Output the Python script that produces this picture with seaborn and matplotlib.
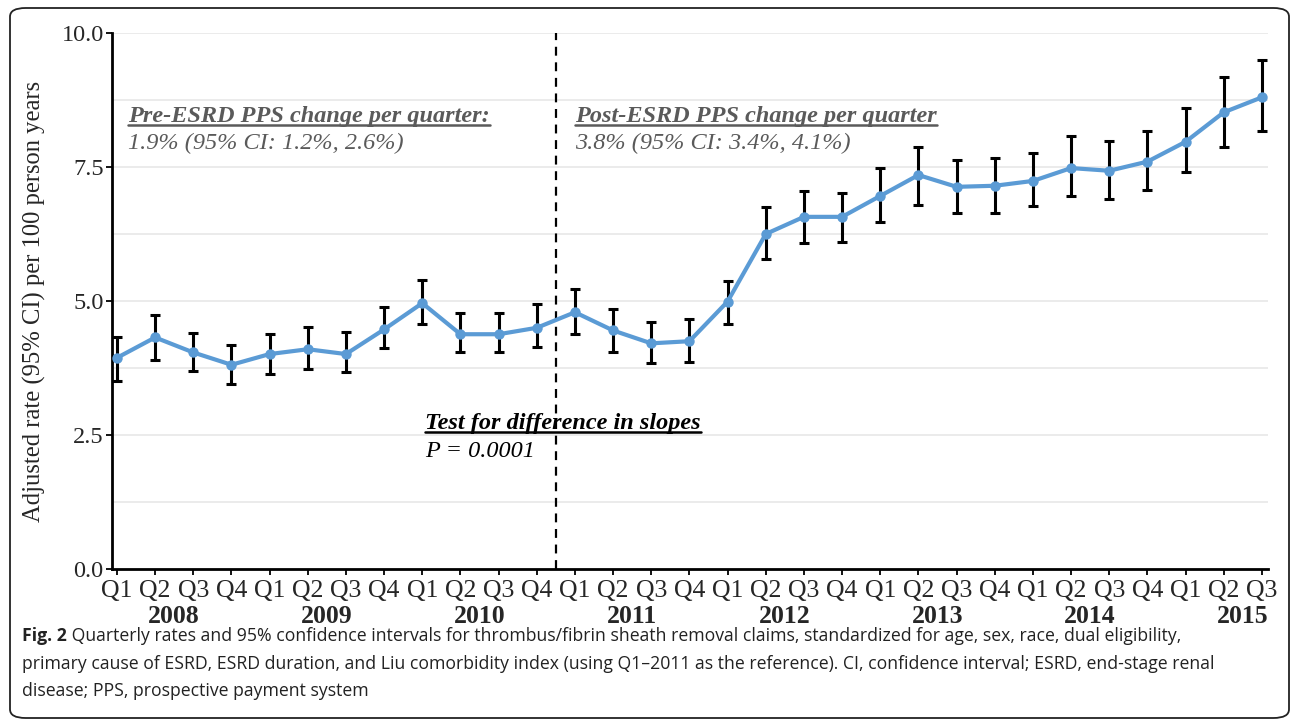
import numpy as np
import pandas as pd
import matplotlib
matplotlib.use("Agg")
import matplotlib.pyplot as plt
import seaborn as sns
from matplotlib.patches import FancyBboxPatch
from matplotlib.lines import Line2D

# quarterly adjusted rates (per 100 person years) with 95% CI, Q1 2008 - Q3 2015
quarters = ["Q1", "Q2", "Q3", "Q4"] * 7 + ["Q1", "Q2", "Q3"]
years = ["2008", "2009", "2010", "2011", "2012", "2013", "2014", "2015"]
rate = [3.94, 4.32, 4.04, 3.81, 4.01, 4.10, 4.01, 4.47, 4.96, 4.38, 4.38, 4.50,
        4.79, 4.45, 4.21, 4.25, 4.99, 6.25, 6.57, 6.57, 6.96, 7.35, 7.13, 7.15,
        7.24, 7.48, 7.43, 7.60, 7.97, 8.52, 8.80]
ci_low = [3.51, 3.89, 3.69, 3.45, 3.63, 3.74, 3.67, 4.12, 4.57, 4.04, 4.04, 4.14,
          4.38, 4.04, 3.85, 3.87, 4.57, 5.78, 6.08, 6.11, 6.47, 6.79, 6.64, 6.65,
          6.78, 6.95, 6.90, 7.07, 7.40, 7.87, 8.18]
ci_high = [4.33, 4.74, 4.41, 4.18, 4.38, 4.52, 4.43, 4.88, 5.39, 4.77, 4.77, 4.94,
           5.22, 4.85, 4.61, 4.66, 5.38, 6.75, 7.05, 7.02, 7.48, 7.88, 7.63, 7.67,
           7.77, 8.08, 7.99, 8.18, 8.61, 9.17, 9.50]

df = pd.DataFrame({"idx": np.arange(len(rate)), "rate": rate,
                   "lo": ci_low, "hi": ci_high})

sns.set_theme(style="white")
plt.rcParams["font.family"] = ["Liberation Serif", "DejaVu Serif"]

W, H = 1295, 724
fig = plt.figure(figsize=(W / 100, H / 100), dpi=100)
ax = fig.add_axes([112 / W, 1 - 569 / H, (1268 - 112) / W, (569 - 33) / H])

# outer rounded frame
frame = FancyBboxPatch((10 / W, 6 / H), (1289 - 10) / W, (716 - 6) / H,
                       boxstyle="round,pad=0,rounding_size=0.012",
                       transform=fig.transFigure, fill=False,
                       edgecolor="#222222", linewidth=1.3)
fig.patches.append(frame)

# gridlines
for g in np.arange(1.25, 10.01, 1.25):
    ax.axhline(g, color="#e9e9e9", lw=1.3, zorder=0)

ax.errorbar(df["idx"], df["rate"],
            yerr=[df["rate"] - df["lo"], df["hi"] - df["rate"]],
            fmt="none", ecolor="black", elinewidth=2.2, capsize=3.8,
            capthick=2.2, zorder=2)
sns.lineplot(data=df, x="idx", y="rate", ax=ax, color="#5b9bd5", lw=3.0,
             marker="o", markersize=7.5, markeredgewidth=0, zorder=3)

ax.axvline(11.5, color="black", lw=1.6, ls=(0, (4, 3)), zorder=1)

ax.set_xlim(-0.13, 30.16)
ax.set_ylim(0, 10)
ax.set_yticks([0, 2.5, 5, 7.5, 10])
ax.set_yticklabels(["0.0", "2.5", "5.0", "7.5", "10.0"])
ax.set_xticks(df["idx"])
ax.set_xticklabels(quarters)
ax.tick_params(axis="both", color="black", length=4, width=1.3,
               direction="out", left=True, bottom=True)
ax.tick_params(axis="x", labelsize=18.5, pad=4)
ax.tick_params(axis="y", labelsize=17.5, pad=2)
for s in ["top", "right"]:
    ax.spines[s].set_visible(False)
for s in ["left", "bottom"]:
    ax.spines[s].set_color("black")
    ax.spines[s].set_linewidth(2.0)
ax.set_xlabel("")
ax.set_ylabel("Adjusted rate (95% CI) per 100 person years", fontsize=17.7,
              labelpad=11)

for k, yr in enumerate(years):
    ax.text(4 * k + 1.5, -0.088, yr, transform=ax.get_xaxis_transform(),
            ha="center", va="center", fontsize=18.5, fontweight="bold")

# annotations
gray = "#5a5a5a"
fs = 17.5
t1 = ax.text(0.29, 8.34, "Pre-ESRD PPS change per quarter:", fontsize=fs,
             fontweight="bold", fontstyle="italic", color=gray, va="baseline")
ax.text(0.29, 7.84, "1.9% (95% CI: 1.2%, 2.6%)", fontsize=fs,
        fontstyle="italic", color=gray, va="baseline")
t2 = ax.text(12.0, 8.34, "Post-ESRD PPS change per quarter", fontsize=fs,
             fontweight="bold", fontstyle="italic", color=gray, va="baseline")
ax.text(12.0, 7.84, "3.8% (95% CI: 3.4%, 4.1%)", fontsize=fs,
        fontstyle="italic", color=gray, va="baseline")
t3 = ax.text(8.07, 2.61, "Test for difference in slopes", fontsize=fs,
             fontweight="bold", fontstyle="italic", color="black", va="baseline")
ax.text(8.07, 2.09, "P = 0.0001", fontsize=fs, fontstyle="italic",
        color="black", va="baseline")

# caption
cap_font = ["Open Sans", "DejaVu Sans"]
cap_fs = 12.7
cap_lines = [
    " Quarterly rates and 95% confidence intervals for thrombus/fibrin sheath "
    "removal claims, standardized for age, sex, race, dual eligibility,",
    "primary cause of ESRD, ESRD duration, and Liu comorbidity index (using "
    "Q1\u20132011 as the reference). CI, confidence interval; ESRD, end-stage renal",
    "disease; PPS, prospective payment system",
]
cap_y = [1 - 641 / H, 1 - 669 / H, 1 - 696 / H]
fig_lab = fig.text(22 / W, cap_y[0], "Fig. 2", fontsize=cap_fs, fontweight="bold",
                   family=cap_font, va="baseline", color="#222222")

fig.canvas.draw()
r = fig.canvas.get_renderer()

bb = fig_lab.get_window_extent(r)
fig.text(bb.x1 / W, cap_y[0], cap_lines[0], fontsize=cap_fs, family=cap_font,
         va="baseline", color="#222222")
for line, yy in zip(cap_lines[1:], cap_y[1:]):
    fig.text(22 / W, yy, line, fontsize=cap_fs, family=cap_font, va="baseline",
             color="#222222")


def underline(t, color):
    b = t.get_window_extent(r)
    y = ax.transData.transform(t.get_position())[1] - 3
    fig.add_artist(Line2D([b.x0 / W, b.x1 / W], [y / H, y / H],
                          transform=fig.transFigure, color=color, lw=1.8))


underline(t1, gray)
underline(t2, gray)
underline(t3, "black")

fig.savefig("out.png", dpi=100)
